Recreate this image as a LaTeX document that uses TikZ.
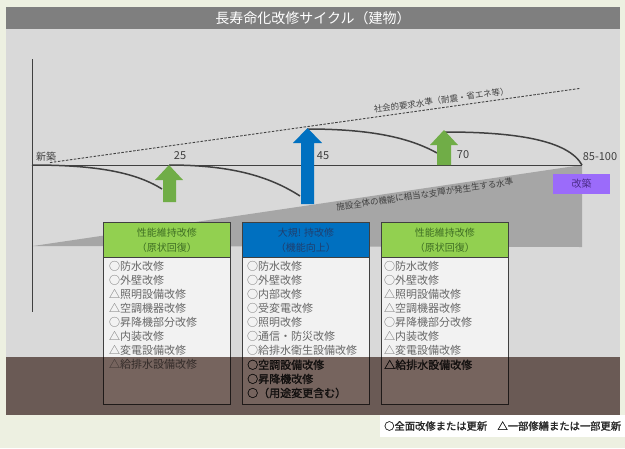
\documentclass[tikz,border=0pt]{standalone}
\usepackage{fontspec}
\newfontfamily\jp{Noto Sans CJK JP}
\newfontfamily\jpb[FakeBold=1.5]{Noto Sans CJK JP}
\usetikzlibrary{calc}
\definecolor{cream}{HTML}{EDF0E1}
\definecolor{panel}{HTML}{D9D9D9}
\definecolor{titlebar}{HTML}{7F7F7F}
\definecolor{wedgecol}{HTML}{A6A6A6}
\definecolor{lgreen}{HTML}{92D050}
\definecolor{agreen}{HTML}{70AD47}
\definecolor{mblue}{HTML}{0070C0}
\definecolor{bodyfill}{HTML}{F2F2F2}
\definecolor{linegray}{HTML}{404040}
\definecolor{txtgray}{HTML}{686868}
\definecolor{hgreentxt}{HTML}{3F6F24}
\definecolor{hbluetxt}{HTML}{1F3F6F}
\definecolor{purp}{HTML}{9B6BFA}
\definecolor{purptxt}{HTML}{4B2C8A}
\definecolor{shadecol}{HTML}{7D6A64}
\begin{document}
\begin{tikzpicture}[x=1pt,y=-1pt,
  every node/.style={font=\jp, inner sep=0pt},
  decay/.style={draw=linegray, line width=1.5pt},
  axisline/.style={draw=linegray, line width=0.8pt},
  yearlbl/.style={font=\jp\fontsize{11}{12}\selectfont, text=linegray},
  hdr/.style={draw=linegray, line width=0.8pt, anchor=north west, minimum width=127pt, minimum height=35pt, align=center, font=\jp\fontsize{10}{15}\selectfont},
  bodybox/.style={draw=linegray, line width=0.8pt, fill=bodyfill, anchor=north west, minimum width=127pt, minimum height=147pt},
  rowtxt/.style={anchor=west, font=\jp\fontsize{11}{12}\selectfont, text=txtgray},
  darkrow/.style={anchor=west, font=\jpb\fontsize{11}{12}\selectfont, text=black!85},
  slopetxt/.style={sloped, font=\jp\fontsize{8.5}{9}\selectfont, text=linegray}
]
\useasboundingbox (0,0) rectangle (625,448);
\fill[cream] (0,0) rectangle (625,448);
\fill[panel] (6,7) rectangle (620,415);
\fill[titlebar] (6,7) rectangle (620,29);
\node[text=white, font=\jp\fontsize{14}{16}\selectfont] (title) at (313,18) {長寿命化改修サイクル（建物）};

% wedge
\coordinate (wl) at (33,246);
\coordinate (wtr) at (582,165);
\coordinate (wbr) at (582,247);
\fill[wedgecol] (wl) -- (wtr) -- (wbr) -- cycle;
\path (wl) -- (wtr) node[slopetxt, pos=0.712, below=2pt] (wtext) {施設全体の機能に相当な支障が発生生する水準};

% axes
\coordinate (atop) at (32,59);
\coordinate (abot) at (32,312);
\coordinate (b0) at (32,165);
\coordinate (bend) at (582,165);
\draw[axisline] (atop) -- (abot);
\draw[axisline] (b0) -- (bend);

% social requirement line
\coordinate (s0) at (50,162.6);
\coordinate (s1) at (580,88.4);
\draw[linegray, line width=0.9pt, dash pattern=on 2.5pt off 1.5pt] (s0) -- (s1)
  node[slopetxt, pos=0.74, above=3pt] (stext) {社会的要求水準（耐震・省エネ等）};

% decay curves
\coordinate (c1e) at (162,189);
\coordinate (c2s) at (169,165);
\coordinate (c2e) at (300,196);
\coordinate (c3s) at (307,129);
\coordinate (c3e) at (437,153);
\coordinate (c4s) at (445,132);
\draw[decay] (b0) .. controls (95,165) and (135,172) .. (c1e);
\draw[decay] (c2s) .. controls (235,165) and (272,178) .. (c2e);
\draw[decay] (c3s) .. controls (372,129) and (410,138) .. (c3e);
\draw[decay] (c4s) .. controls (515,132) and (568,140) .. (bend);

% block arrows
\fill[agreen] (155,180) -- (169,165) -- (183,180) -- (176,180) -- (176,202) -- (163,202) -- (163,180) -- cycle;
\fill[mblue] (293,143) -- (307.5,128) -- (322,143) -- (314,143) -- (314,204) -- (301,204) -- (301,143) -- cycle;
\fill[agreen] (430,145) -- (444,130) -- (458,145) -- (451,145) -- (451,165) -- (437,165) -- (437,145) -- cycle;

% labels
\node[font=\jp\fontsize{10}{12}\selectfont, text=linegray] (shinchiku) at (46,157) {新築};
\node[yearlbl] (y25) at (180,156) {25};
\node[yearlbl] (y45) at (323,156) {45};
\node[yearlbl] (y70) at (463,155) {70};
\node[yearlbl] (y85) at (600,157) {85-100};
\node[fill=purp, minimum width=57pt, minimum height=20pt, text=purptxt, font=\jp\fontsize{10}{12}\selectfont] (kaichiku) at (581.5,184) {改築};

% boxes
\node[bodybox] (b1) at (103,257) {};
\node[bodybox] (b2) at (242,257) {};
\node[bodybox] (b3) at (381,257) {};
\node[hdr, fill=lgreen, text=hgreentxt] (h1) at (103,222) {性能維持改修\\（原状回復）};
\node[hdr, fill=mblue, text=hbluetxt] (h2) at (242,222) {大規! 持改修\\（機能向上）};
\node[hdr, fill=lgreen, text=hgreentxt] (h3) at (381,222) {性能維持改修\\（原状回復）};

\foreach \t [count=\i] in {○防水改修,○外壁改修,△照明設備改修,△空調機器改修,○昇降機部分改修,△内装改修,△変電設備改修,△給排水設備改修}
  \node[rowtxt] (ra\i) at (109,252+14.1*\i) {\t};
\foreach \t [count=\i] in {○防水改修,○外壁改修,○内部改修,○受変電改修,○照明改修,○通信・防災改修,○給排水衛生設備改修}
  \node[rowtxt] (rb\i) at (247,252+14.1*\i) {\t};
\foreach \t [count=\i from 8] in {○空調設備改修,○昇降機改修,○（用途変更含む）}
  \node[darkrow] (rb\i) at (247,252+14.1*\i) {\t};
\foreach \t [count=\i] in {○防水改修,○外壁改修,△照明設備改修,△空調機器改修,○昇降機部分改修,△内装改修,△変電設備改修}
  \node[rowtxt] (rc\i) at (384,252+14.1*\i) {\t};
\node[darkrow] (rc8) at (384,252+14.1*8) {△給排水設備改修};

% dark band
\begin{scope}[blend mode=multiply]
\fill[shadecol] (6,357) rectangle (620,415);
\end{scope}

% legend
\fill[white] (380,415) rectangle (625,437);
\node[anchor=west, font=\jpb\fontsize{10.3}{12}\selectfont, text=black!85] (legend) at (384,426) {○全面改修または更新　△一部修繕または一部更新};
\end{tikzpicture}
\end{document}
